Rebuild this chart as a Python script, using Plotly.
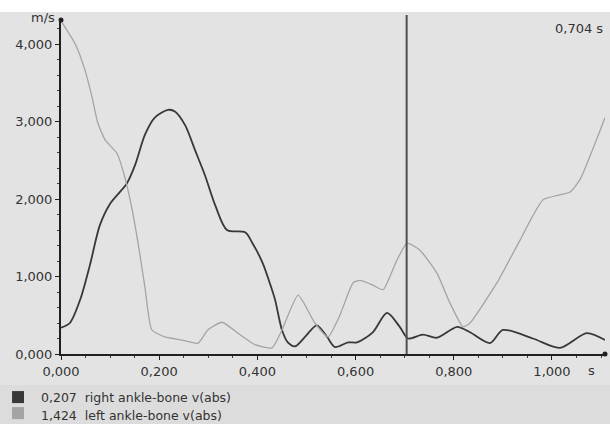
import plotly.graph_objects as go

# time axis (s) and |v| (m/s)
t_right = [0.000, 0.018, 0.039, 0.059, 0.079, 0.100, 0.134, 0.151, 0.171, 0.191,
           0.218, 0.232, 0.253, 0.273, 0.293, 0.314, 0.338, 0.375, 0.390, 0.411,
           0.425, 0.436, 0.450, 0.462, 0.477, 0.497, 0.521, 0.542, 0.558, 0.585,
           0.603, 0.635, 0.664, 0.690, 0.707, 0.737, 0.766, 0.807, 0.833, 0.874,
           0.900, 0.961, 1.016, 1.071, 1.108]
v_right = [0.34, 0.40, 0.70, 1.15, 1.66, 1.94, 2.20, 2.44, 2.83, 3.05,
           3.15, 3.13, 2.95, 2.63, 2.31, 1.92, 1.60, 1.57, 1.43, 1.17,
           0.92, 0.70, 0.31, 0.15, 0.10, 0.22, 0.37, 0.22, 0.09, 0.15,
           0.15, 0.28, 0.53, 0.35, 0.20, 0.25, 0.21, 0.35, 0.28, 0.14,
           0.31, 0.20, 0.08, 0.27, 0.18]

t_left = [0.000, 0.029, 0.049, 0.063, 0.075, 0.090, 0.114, 0.130, 0.145, 0.157,
          0.171, 0.185, 0.212, 0.246, 0.279, 0.299, 0.328, 0.360, 0.395, 0.430,
          0.450, 0.483, 0.517, 0.544, 0.568, 0.595, 0.609, 0.635, 0.656, 0.684,
          0.705, 0.731, 0.766, 0.792, 0.819, 0.833, 0.888, 0.935, 0.982, 1.037,
          1.057, 1.108]
v_left = [4.30, 4.00, 3.66, 3.32, 2.98, 2.76, 2.59, 2.28, 1.86, 1.43,
          0.86, 0.31, 0.22, 0.18, 0.14, 0.31, 0.41, 0.27, 0.12, 0.08,
          0.31, 0.76, 0.40, 0.22, 0.50, 0.92, 0.95, 0.89, 0.83, 1.21,
          1.43, 1.34, 1.04, 0.66, 0.35, 0.40, 0.92, 1.47, 1.99, 2.09,
          2.25, 3.05]

cursor_t = 0.704
cursor_vals = ["0,207", "1,424"]
names = ["right ankle-bone v(abs)", "left ankle-bone v(abs)"]
colors = ["#383838", "#a4a4a4"]
y_ticks = [0, 1, 2, 3, 4]
x_ticks = [0, 0.2, 0.4, 0.6, 0.8, 1.0]
x_max = 1.108
y_max = 4.31

font = dict(family="DejaVu Sans", size=13, color="#333333")
legend_font = dict(family="DejaVu Sans", size=12.5, color="#333333")

fig = go.Figure()
fig.add_trace(go.Scatter(x=t_right, y=v_right, mode="lines",
                         line=dict(color=colors[0], width=1.8, shape="spline", smoothing=0.8),
                         hoverinfo="skip"))
fig.add_trace(go.Scatter(x=t_left, y=v_left, mode="lines",
                         line=dict(color=colors[1], width=1.3, shape="spline", smoothing=0.5),
                         hoverinfo="skip"))
# axis end dots
fig.add_trace(go.Scatter(x=[0, x_max], y=[y_max, 0], mode="markers", cliponaxis=False,
                         marker=dict(color="#202020", size=5), hoverinfo="skip"))

shapes = [
    # white strip at top
    dict(type="rect", xref="paper", yref="paper", x0=-0.2, x1=1.1, y0=1.024, y1=1.1,
         fillcolor="white", line_width=0, layer="below"),
    # legend strip
    dict(type="rect", xref="paper", yref="paper", x0=-0.2, x1=1.1, y0=-0.21, y1=-0.093,
         fillcolor="#dcdcdc", line_width=0, layer="below"),
    # cursor line
    dict(type="line", xref="x", yref="paper", x0=cursor_t, x1=cursor_t, y0=0, y1=1.015,
         line=dict(color="#505050", width=2)),
]
annotations = [
    dict(text="m/s", xref="paper", yref="paper", x=0, y=1.0, xanchor="right",
         yanchor="middle", xshift=-4, yshift=3, showarrow=False, font=font),
    dict(text="s", xref="paper", yref="paper", x=0.986, y=0, yanchor="top",
         yshift=-7, showarrow=False, font=font),
    dict(text="%s s" % f"{cursor_t:.3f}".replace(".", ","), xref="paper", yref="paper",
         x=1, y=0.976, xanchor="right", yanchor="middle", showarrow=False, font=font),
]
legend_rows = [(-0.111, -0.129), (-0.159, -0.183)]
for i, (top, mid) in enumerate(legend_rows):
    shapes.append(dict(type="rect", xref="paper", yref="paper",
                       x0=-0.090, x1=-0.068, y0=top - 0.036, y1=top,
                       fillcolor=colors[i], line_width=0))
    annotations.append(dict(text=f"{cursor_vals[i]}  {names[i]}", xref="paper", yref="paper",
                            x=-0.040, y=mid, xanchor="left", yanchor="middle",
                            showarrow=False, font=legend_font))

fig.update_layout(
    width=610, height=424,
    margin=dict(l=61, r=5, t=20, b=70),
    paper_bgcolor="#e3e3e3", plot_bgcolor="#e3e3e3",
    showlegend=False, separators=", ",
    font=font, shapes=shapes, annotations=annotations,
)
fig.update_xaxes(range=[0, x_max], tickvals=x_ticks, tickformat=".3f",
                 showgrid=False, zeroline=False, showline=True, linecolor="#202020",
                 linewidth=2, ticks="outside", ticklen=4, tickcolor="#202020",
                 minor=dict(dtick=0.05, ticks="outside", ticklen=2, tickcolor="#404040"))
fig.update_yaxes(range=[0, y_max], tickvals=y_ticks, tickformat=".3f",
                 showgrid=False, zeroline=False, showline=True, linecolor="#202020",
                 linewidth=2, ticks="outside", ticklen=4, tickcolor="#202020",
                 minor=dict(dtick=0.2, ticks="outside", ticklen=2, tickcolor="#404040"))

# drop the page's default body margin so the figure sits at the window's corner
fig.write_html("out.html", config={"displayModeBar": False},
               post_script="document.body.style.margin='0';")
